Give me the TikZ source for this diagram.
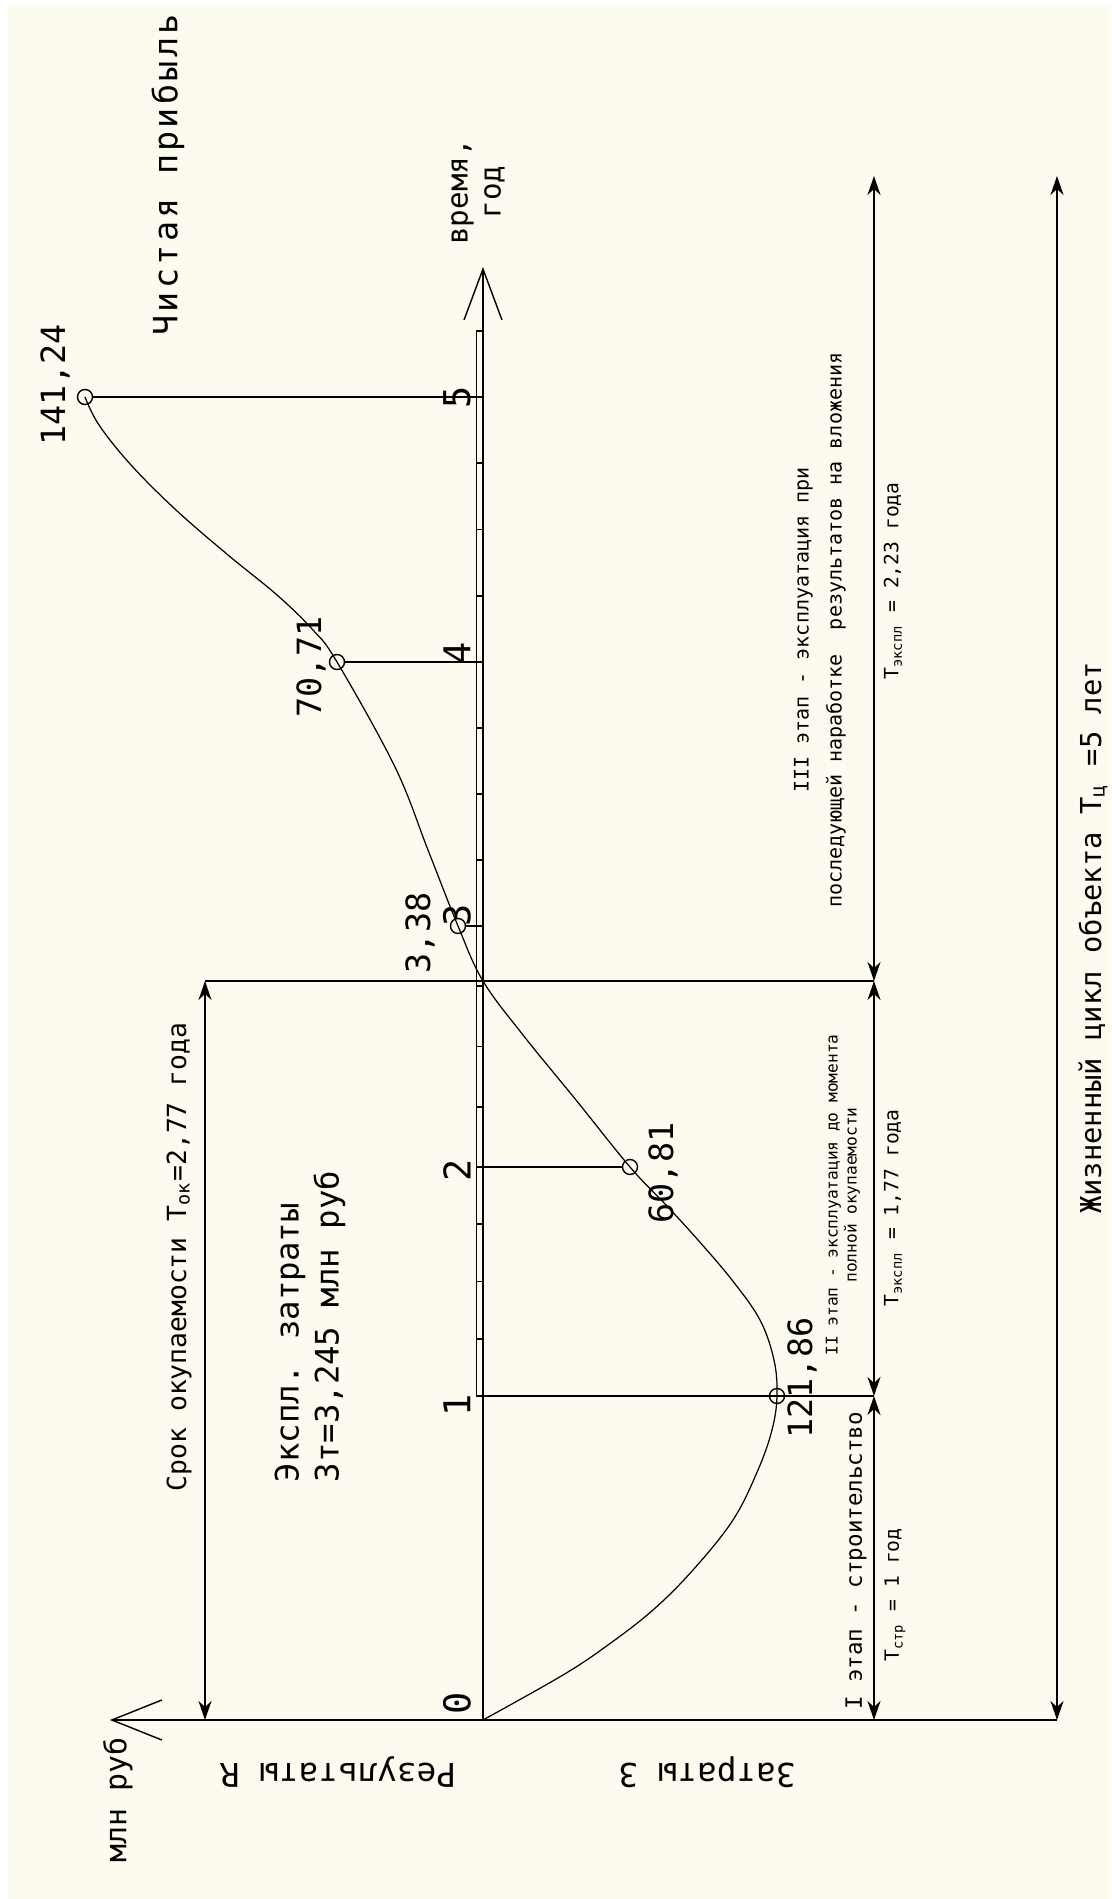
\documentclass[tikz,border=0pt]{standalone}
\usepackage{fontspec}
\newfontfamily\cad{DejaVu Sans Mono}
\newfontfamily\cadlargo{DejaVu Sans Mono}[LetterSpace=10]
\usetikzlibrary{arrows.meta, positioning}
\definecolor{carta}{RGB}{253,251,239}
\newcommand{\corpo}[2]{\fontsize{#1}{#2}\selectfont}

\begin{document}
\begin{tikzpicture}[rotate=90, transform shape,
    testo/.style={font=\cad, inner sep=0pt},
    linea/.style={line width=0.45pt},
    quota/.style={line width=0.45pt, {Stealth[length=1.9mm,width=1.3mm,inset=0.6mm]}-{Stealth[length=1.9mm,width=1.3mm,inset=0.6mm]}},
    cerchio/.style={circle, draw, line width=0.4pt, minimum size=1.5mm, inner sep=0pt}]
    % Parametri
    \pgfmathsetmacro{\xuno}{3.24}
    \pgfmathsetmacro{\xdue}{5.53}
    \pgfmathsetmacro{\xrec}{7.39}
    \pgfmathsetmacro{\xtre}{7.94}
    \pgfmathsetmacro{\xquattro}{10.58}
    \pgfmathsetmacro{\xcinque}{13.23}
    \pgfmathsetmacro{\xregolo}{13.89}
    \pgfmathsetmacro{\xmax}{14.53}
    \pgfmathsetmacro{\xquote}{15.44}
    \pgfmathsetmacro{\ymax}{3.73}
    \pgfmathsetmacro{\yrec}{2.78}
    \pgfmathsetmacro{\yfasi}{-3.91}
    \pgfmathsetmacro{\yvita}{-5.74}
    \pgfmathsetmacro{\eps}{0.065}
    % Foglio
    \useasboundingbox (-1.79,-6.28) rectangle (17.20,4.83);
    \fill[white] (-1.79,-6.28) rectangle (17.20,4.83);
    \fill[carta] (-1.79,-6.28) rectangle (17.13,4.75);
    % Assi
    \draw[line width=0.7pt, -{Straight Barb[length=5.1mm,width=3.8mm,line width=0.4pt]}] (0,0) -- (\xmax,0);
    \draw[line width=0.8pt, -{Straight Barb[length=5mm,width=4mm,line width=0.4pt]}] (0,\yvita) -- (0,\ymax);
    % Righello sull'asse dei tempi
    \draw[linea] (\xuno,\eps) -- (\xregolo,\eps);
    \foreach \xa/\xb in {\xuno/\xdue, \xdue/\xtre, \xtre/\xquattro, \xquattro/\xcinque}
        \foreach \k in {0,...,3}
            \draw[linea] ({\xa+\k*(\xb-\xa)/4},0) -- ++(0,\eps);
    \draw[linea] (\xcinque,0) -- ++(0,\eps);
    \draw[linea] (\xregolo,0) -- ++(0,\eps);
    % Curva
    \draw[line width=0.35pt] plot[smooth, tension=0.6] coordinates {(0,0) (0.45,-0.8) (0.75,-1.25) (1.1,-1.7) (1.5,-2.1) (2.0,-2.5) (2.5,-2.75) (2.9,-2.89) (\xuno,-2.94) (3.6,-2.91) (4.0,-2.77) (4.4,-2.49) (4.8,-2.15) (5.15,-1.83) (\xdue,-1.47) (6.2,-0.93) (6.85,-0.40) (\xrec,0) (\xtre,0.25) (8.7,0.55) (9.53,0.88) (\xquattro,1.46) (10.9,1.70) (11.25,2.06) (11.65,2.55) (12.1,3.07) (12.55,3.52) (12.95,3.84) (\xcinque,3.98)};
    % Punti
    \node[cerchio] (p1) at (\xuno,-2.94) {};
    \node[cerchio] (p2) at (\xdue,-1.47) {};
    \node[cerchio] (p3) at (\xtre,0.25) {};
    \node[cerchio] (p4) at (\xquattro,1.46) {};
    \node[cerchio] (p5) at (\xcinque,3.98) {};
    \coordinate (t2) at (\xdue,0);
    \coordinate (t3) at (\xtre,0);
    \coordinate (t4) at (\xquattro,0);
    \coordinate (t5) at (\xcinque,0);
    % Linee verticali
    \draw[linea] (\xuno,\eps) -- (\xuno,\yfasi);
    \draw[linea] (t2) -- (p2);
    \draw[linea] (t3) -- (p3);
    \draw[linea] (t4) -- (p4);
    \draw[linea] (t5) -- (p5);
    \draw[linea] (\xrec,\yrec) -- (\xrec,\yfasi);
    % Quote
    \draw[quota] (0,\yrec) -- (\xrec,\yrec);
    \draw[quota] (0,\yfasi) -- (\xuno,\yfasi);
    \draw[quota] (\xuno,\yfasi) -- (\xrec,\yfasi);
    \draw[quota] (\xrec,\yfasi) -- (\xquote,\yfasi);
    \draw[quota] (0,\yvita) -- (\xquote,\yvita);
    % Etichette asse
    \foreach \x/\t in {0.17/0, 3.15/1, 5.50/2, 8.05/3, 10.67/4, 13.23/5}
        \node[testo, font=\cad\corpo{10.5}{12}] (n\t) at (\x,0.26) {\t};
    \node[testo, font=\cad\corpo{8.3}{9.4}, align=center] (tempo) at (15.28,0.05) {время,\\год};
    \node[testo, font=\cad\corpo{8.5}{10}] (unita) at (-0.80,3.65) {млн руб};
    \node[testo, rotate=90, font=\cad\corpo{9.3}{11}] (risult) at (-0.52,1.45) {Результаты R};
    \node[testo, rotate=90, font=\cad\corpo{9.3}{11}] (costi) at (-0.52,-2.24) {Затраты З};
    \node[testo, font=\cadlargo\corpo{9.5}{11}] (utile) at (15.45,3.15) {Чистая прибыль};
    % Valori
    \node[testo, font=\cad\corpo{9.5}{11}] (v5) at (13.35,4.28) {141,24};
    \node[testo, font=\cad\corpo{9.5}{11}] (v4) at (10.53,1.72) {70,71};
    \node[testo, font=\cad\corpo{9.5}{11}] (v3) at (7.87,0.63) {3,38};
    \node[testo, font=\cad\corpo{9.5}{11}] (v2) at (5.47,-1.80) {60,81};
    \node[testo, font=\cad\corpo{9.5}{11}] (v1) at (3.42,-3.19) {121,86};
    % Testi
    \node[testo, font=\cad\corpo{7.5}{9}] (rientro) at (4.63,3.04) {Срок окупаемости Т\textsubscript{ок}=2,77 года};
    \node[testo, font=\cad\corpo{9.2}{11.4}, align=left, anchor=west] (esercizio) at (2.37,1.73) {Экспл. затраты\\Зт=3,245 млн руб};
    \node[testo, font=\cad\corpo{6.4}{8}] (fase1) at (1.59,-3.73) {I этап - строительство};
    \node[testo, font=\cad\corpo{5.6}{7}] (tfase1) at (1.25,-4.12) {Т\textsubscript{стр} = 1 год};
    \node[testo, font=\cad\corpo{4.6}{5.4}, align=center] (fase2) at (5.25,-3.60) {II этап - эксплуатация до момента\\полной окупаемости};
    \node[testo, font=\cad\corpo{5.6}{7}] (tfase2) at (5.12,-4.10) {Т\textsubscript{экспл} = 1,77 года};
    \node[testo, font=\cad\corpo{5.7}{9.4}, align=center] (fase3) at (10.9,-3.37) {III этап - эксплуатация при\\последующей наработке~~результатов на вложения};
    \node[testo, font=\cad\corpo{5.6}{7}] (tfase3) at (11.39,-4.10) {Т\textsubscript{экспл} = 2,23 года};
    \node[testo, font=\cad\corpo{8.2}{10}] (ciclo) at (7.82,-6.10) {Жизненный цикл объекта Т\textsubscript{ц} =5 лет};
\end{tikzpicture}
\end{document}
